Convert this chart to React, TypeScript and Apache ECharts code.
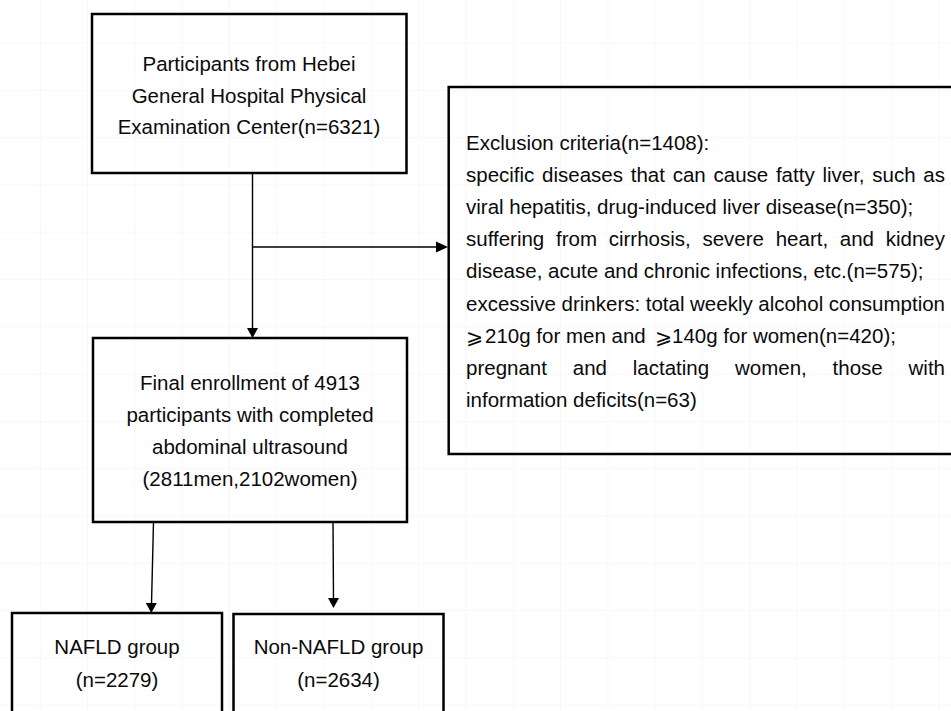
import React, { useEffect, useRef } from "react";
import * as echarts from "echarts";

// ---- data ----
const totalN = 6321;
const excludedN = 1408;
const exclusionCounts = [350, 575, 420, 63];
const enrolledN = 4913;
const menN = 2811;
const womenN = 2102;
const groupNames = ["NAFLD group", "Non-NAFLD group"];
const groupCounts = [2279, 2634];

const box1Lines = [
  "Participants from Hebei",
  "General Hospital Physical",
  `Examination Center(n=${totalN})`,
];
const box2Lines = [
  `Final enrollment of ${enrolledN}`,
  "participants with completed",
  "abdominal ultrasound",
  `(${menN}men,${womenN}women)`,
];
const exclusionLines = [
  `Exclusion criteria(n=${excludedN}):`,
  "specific diseases that can cause fatty liver, such as",
  `viral hepatitis, drug-induced liver disease(n=${exclusionCounts[0]});`,
  "suffering from cirrhosis, severe heart, and kidney",
  `disease, acute and chronic infections, etc.(n=${exclusionCounts[1]});`,
  "excessive drinkers: total weekly alcohol consumption",
  `⩾210g for men and  ⩾140g for women(n=${exclusionCounts[2]});`,
  "pregnant and lactating women, those with",
  `information deficits(n=${exclusionCounts[3]})`,
];
const justifiedLines = [false, true, false, true, false, true, false, true, false];

const W = 951;
const H = 711;
const FONT_SIZE = 20.5;
const FONT_FAMILY = "Liberation Sans, Arial, DejaVu Sans, sans-serif";
const TEXT_COLOR = "#0a0a0a";

function measure(text: string): number {
  const c = document.createElement("canvas");
  const ctx = c.getContext("2d")!;
  ctx.font = `${FONT_SIZE}px "Liberation Sans", Arial, sans-serif`;
  return ctx.measureText(text).width;
}

function txt(text: string, x: number, y: number, align: string = "center"): any {
  return {
    type: "text",
    x,
    y,
    silent: true,
    style: {
      text,
      fontSize: FONT_SIZE,
      fontFamily: FONT_FAMILY,
      fill: TEXT_COLOR,
      textAlign: align,
      align,
      textVerticalAlign: "middle",
      verticalAlign: "middle",
    },
  };
}

function box(x1: number, y1: number, x2: number, y2: number): any {
  return {
    type: "rect",
    silent: true,
    shape: { x: x1, y: y1, width: x2 - x1, height: y2 - y1 },
    style: { fill: "none", stroke: "#000", lineWidth: 2.5 },
  };
}

function line(x1: number, y1: number, x2: number, y2: number, w = 1.4): any {
  return {
    type: "line",
    silent: true,
    shape: { x1, y1, x2, y2 },
    style: { stroke: "#000", lineWidth: w },
  };
}

function arrowDown(x: number, tipY: number): any {
  return {
    type: "polygon",
    silent: true,
    shape: { points: [[x - 5.5, tipY - 10], [x + 5.5, tipY - 10], [x, tipY]] },
    style: { fill: "#000" },
  };
}

function arrowRight(tipX: number, y: number): any {
  return {
    type: "polygon",
    silent: true,
    shape: { points: [[tipX - 12, y - 5.5], [tipX - 12, y + 5.5], [tipX, y]] },
    style: { fill: "#000" },
  };
}

export default function App() {
  const ref = useRef<HTMLDivElement>(null);

  useEffect(() => {
    if (!ref.current) return;
    const chart = echarts.init(ref.current, undefined, { renderer: "svg", width: W, height: H });
    const els: any[] = [];

    // faint background grid
    const step = 47.3;
    for (let gx = -7 + step; gx < W; gx += step) {
      els.push({ type: "line", silent: true, shape: { x1: gx, y1: 0, x2: gx, y2: H }, style: { stroke: "#f8f8f8", lineWidth: 1 } });
    }
    for (let gy = -4.3 + step; gy < H; gy += step) {
      els.push({ type: "line", silent: true, shape: { x1: 0, y1: gy, x2: W, y2: gy }, style: { stroke: "#f8f8f8", lineWidth: 1 } });
    }

    // boxes
    els.push(box(92, 14, 406.5, 173));
    els.push(box(93, 338, 407, 522));
    els.push(box(448.7, 87, 965, 454));
    els.push(box(12, 613, 222, 730));
    els.push(box(233.5, 614, 443.5, 730));

    // connectors
    els.push(line(252.5, 173, 252.5, 330));
    els.push(arrowDown(252.5, 338));
    els.push(line(252.5, 247, 440, 247));
    els.push(arrowRight(448, 247));
    els.push(line(153.5, 522, 151.5, 604));
    els.push(arrowDown(151.3, 613));
    els.push(line(333, 522, 333.5, 600));
    els.push(arrowDown(333.5, 608));

    // box 1 text
    const b1cx = 249;
    [63, 95, 126.5].forEach((y, i) => els.push(txt(box1Lines[i], b1cx, y)));

    // box 2 text
    const b2cx = 250;
    [382, 414, 446, 478.5].forEach((y, i) => els.push(txt(box2Lines[i], b2cx, y)));

    // group boxes
    const gcx = [117, 338.5];
    groupNames.forEach((name, i) => {
      els.push(txt(name, gcx[i], 646.5));
      els.push(txt(`(n=${groupCounts[i]})`, gcx[i], 679.5));
    });

    // exclusion text
    const left = 466;
    const right = 945;
    exclusionLines.forEach((ln, i) => {
      const y = 142 + i * 32.2;
      if (justifiedLines[i]) {
        const words = ln.split(" ");
        const widths = words.map(measure);
        const total = widths.reduce((a, b) => a + b, 0);
        const gap = (right - left - total) / (words.length - 1);
        let x = left;
        words.forEach((w, k) => {
          els.push(txt(w, x, y, "left"));
          x += widths[k] + gap;
        });
      } else if (ln.indexOf("⩾") >= 0) {
        // symbol lines: symbol glyphs come from a fallback font, place segments
        const parts = ln.split("⩾").filter((p) => p.length > 0).map((p) => p.trim());
        const starts = [485, 672];
        const symX = [466, 655];
        parts.forEach((p, k) => {
          els.push(txt("⩾", symX[k], y + 1, "left"));
          els.push(txt(p, starts[k], y, "left"));
        });
      } else {
        els.push(txt(ln, left, y, "left"));
      }
    });

    chart.setOption({
      animation: false,
      backgroundColor: "#ffffff",
      graphic: { elements: els },
    });

    return () => chart.dispose();
  }, []);

  return (
    <div
      ref={ref}
      style={{ position: "fixed", left: 0, top: 0, width: W, height: H, background: "#fff" }}
    />
  );
}
